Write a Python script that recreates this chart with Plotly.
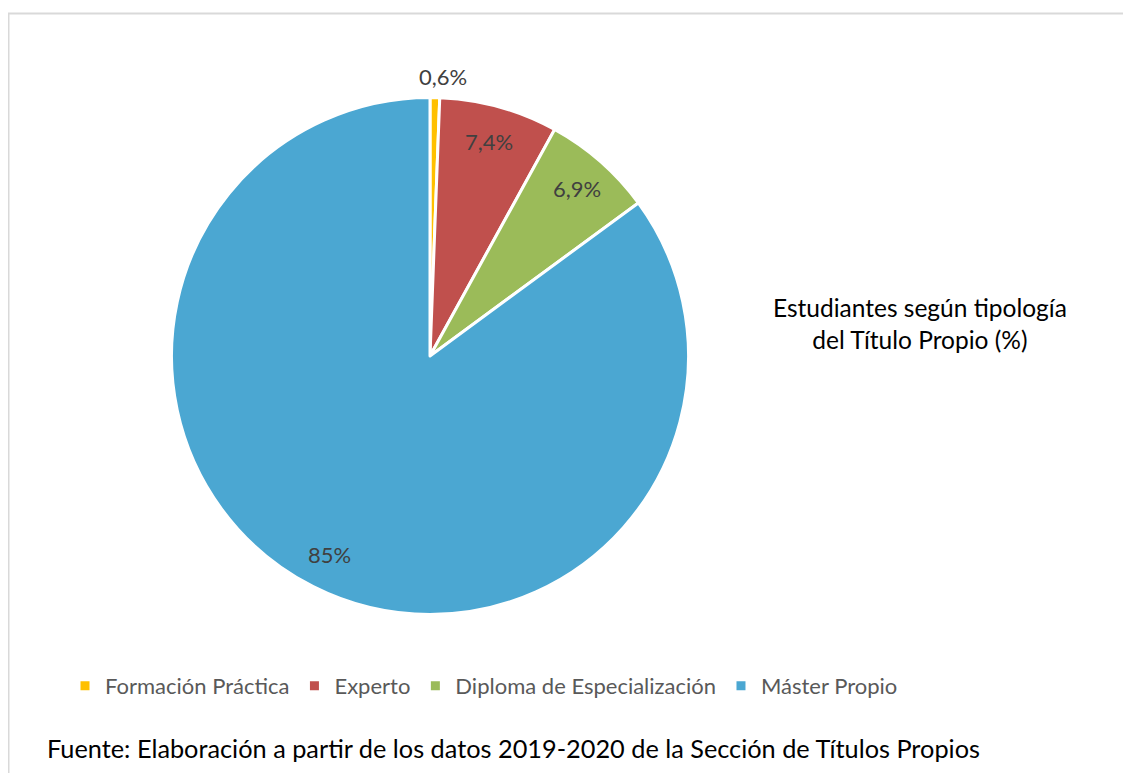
import math
import plotly.graph_objects as go

categories = ["Formación Práctica", "Experto", "Diploma de Especialización", "Máster Propio"]
values = [0.6, 7.4, 6.9, 85]
colors = ["#FFC000", "#C0504D", "#9BBB59", "#4BA7D2"]
label_text = [f"{v:g}".replace(".", ",") + "%" for v in values]
label_outside = [True, False, False, False]
title_text = "Estudiantes según tipología<br>del Título Propio (%)"
source_text = "Fuente: Elaboración a partir de los datos 2019-2020 de la Sección de Títulos Propios"

W, H = 1131, 773
OFF = 8  # page body margin offset
FONT = "Lato, Carlito, sans-serif"

# pie geometry (pixels in figure space)
CX, CY, R = 430 - OFF, 356 - OFF, 258.5


def px(x):
    return x / W


def py(y):
    return 1 - y / H


fig = go.Figure(go.Pie(
    labels=categories,
    values=values,
    textinfo="none",
    sort=False,
    direction="clockwise",
    rotation=0,
    marker=dict(colors=colors, line=dict(color="white", width=3)),
    domain=dict(x=[px(CX - R), px(CX + R)], y=[py(CY + R), py(CY - R)]),
    showlegend=True,
    hoverinfo="label+percent",
))

# data labels placed along each slice's bisector (computed from values)
annotations = []
total = sum(values)
cum = 0.0
for v, txt, outside in zip(values, label_text, label_outside):
    mid = cum + v / 2
    cum += v
    theta = math.radians(90 - 360 * mid / total)
    f = 1.08 if outside else 0.86
    x = CX + f * R * math.cos(theta)
    y = CY - f * R * math.sin(theta)
    annotations.append(dict(
        text=txt, x=px(x), y=py(y), xref="paper", yref="paper",
        showarrow=False, xanchor="left" if outside else "center", yanchor="middle",
        xshift=-18 if outside else 0,
        font=dict(family=FONT, size=22, color="#404040"),
    ))

annotations += [
    dict(text=title_text, x=px(920 - OFF), y=py(323 - OFF), xref="paper", yref="paper",
         showarrow=False, xanchor="center", yanchor="middle", align="center",
         font=dict(family=FONT, size=24.5, color="black")),
    dict(text=source_text, x=px(45 - OFF), y=py(748 - OFF), xref="paper", yref="paper",
         showarrow=False, xanchor="left", yanchor="middle",
         font=dict(family=FONT, size=25.3, color="black")),
]

fig.update_layout(
    width=W, height=H,
    margin=dict(l=0, r=0, t=0, b=0),
    paper_bgcolor="white",
    plot_bgcolor="white",
    font=dict(family=FONT),
    legend=dict(
        orientation="h",
        x=px(484 - OFF), xanchor="center",
        y=py(686 - OFF), yanchor="middle",
        font=dict(family=FONT, size=22, color="#595959"),
        itemwidth=30,
        traceorder="normal",
    ),
    annotations=annotations,
    shapes=[
        dict(type="line", xref="paper", yref="paper", x0=px(8 - OFF), x1=1.0,
             y0=py(13.5 - OFF), y1=py(13.5 - OFF), line=dict(color="#D9D9D9", width=2)),
        dict(type="line", xref="paper", yref="paper", x0=px(8.5 - OFF), x1=px(8.5 - OFF),
             y0=0, y1=py(13.5 - OFF), line=dict(color="#D9D9D9", width=2)),
    ],
)

fig.write_html("out.html")
